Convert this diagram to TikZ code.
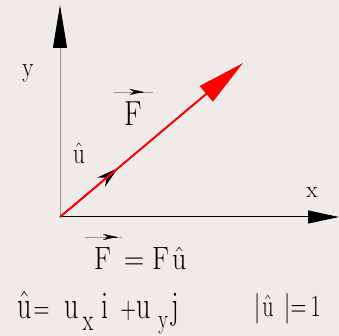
\documentclass[tikz,border=0pt]{standalone}
\usepackage{fix-cm}
\usepackage{graphicx}
\usetikzlibrary{arrows.meta, calc}

\definecolor{paper}{RGB}{238,235,232}
\definecolor{axisgray}{RGB}{150,150,150}
\newcommand{\tallbox}[2]{\scalebox{1}[#1]{#2}}
\newcommand{\fs}[1]{\fontsize{#1}{#1}\selectfont}

\begin{document}
\begin{tikzpicture}[x=1pt, y=1pt, line join=miter,
  lbl/.style={inner sep=0pt, font=\fs{23}},
  big/.style={inner sep=0pt, font=\fs{28}},
  eqn/.style={inner sep=0pt, font=\fs{28}},
  overarrow/.style={-{Stealth[length=14pt,width=6pt]}, line width=0.1pt},
  overline/.style={axisgray, line width=0.6pt}]
  \useasboundingbox (0,0) rectangle (339,336);
  \fill[paper] (0,0) rectangle (339,336);

  % axes and vectors
  \coordinate (O) at (60,119);
  \coordinate (Y) at (60,331);
  \coordinate (X) at (339,119);
  \coordinate (U) at (118,168);
  \coordinate (P) at (243,273);

  \draw[axisgray, line width=0.8pt, -{Triangle[length=43pt,width=14pt,color=black]}] (O) -- (Y);
  \draw[line width=1pt, -{Triangle[length=31pt,width=13pt]}] (O) -- (X);
  \draw[line width=1.3pt, -{Stealth[length=22pt,width=12pt]}] (O) -- (U);
  \draw[red, line width=2pt, -{Triangle[length=48pt,width=20pt]}] (O) -- (P);

  % labels
  \node[lbl] (ylab) at (28,263) {\tallbox{1.2}{y}};
  \node[lbl] (xlab) at (312,143) {x};
  \node[lbl] (ulab) at (79,183) {\tallbox{1.3}{$\hat{\mathrm{u}}$}};
  \node[big, font=\fs{29}] (Flab) at (133.5,222) {\tallbox{1.2}{F}};
  \draw[overline] ($(Flab.north)+(-20,10)$) -- ($(Flab.north)+(19,10)$);
  \draw[overarrow] ($(Flab.north)+(9.9,10)$) -- ($(Flab.north)+(10,10)$);

  % formulas
  \node[big, anchor=base west] (eq) at (94,66) {\tallbox{1.15}{F\hspace{13pt}$=$\hspace{8pt}F\hspace{3pt}$\hat{\mathrm{u}}$}};
  \draw[overline] ($(eq.base west)+(-9,33)$) -- ($(eq.base west)+(28,33)$);
  \draw[overarrow] ($(eq.base west)+(22.9,33)$) -- ($(eq.base west)+(23,33)$);

  \node[eqn, anchor=base west] (comp) at (17,17) {\tallbox{1.4}{$\hat{\mathrm{u}}$\hspace{2pt}{\fs{22}$=$}\hspace{15pt}u\hspace{4pt}\raisebox{-8pt}{\fs{22}x}\hspace{8pt}i\hspace{12pt}{\fs{22}$+$}u\hspace{8pt}\raisebox{-7pt}{\fs{20}y}\hspace{3pt}j}};
  \node[lbl, font=\fs{22}, anchor=base west] (norm) at (254,19) {\tallbox{1.4}{$|$\hspace{2pt}$\hat{\mathrm{u}}$\hspace{11pt}$|$$=$\hspace{4pt}1}};
\end{tikzpicture}
\end{document}
